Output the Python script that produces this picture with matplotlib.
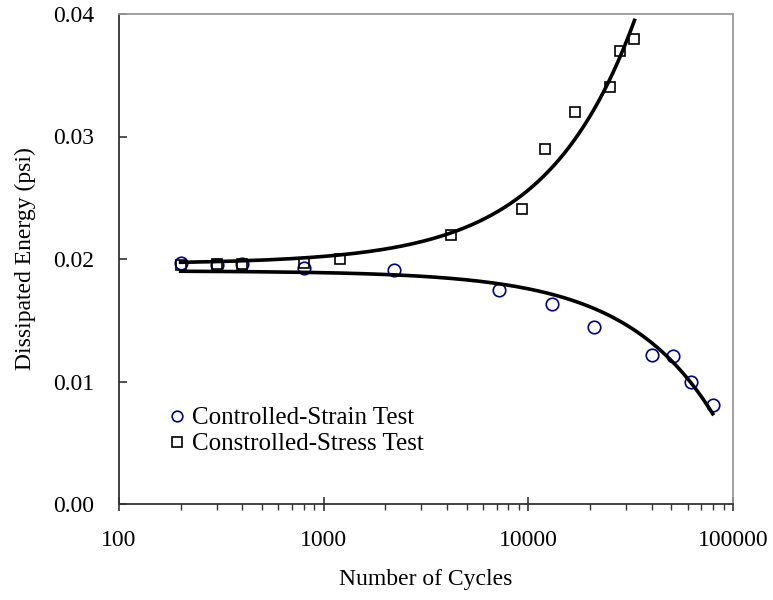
import numpy as np
import matplotlib
matplotlib.use("Agg")
import matplotlib.pyplot as plt
from matplotlib.ticker import FixedLocator, LogLocator, NullFormatter, FuncFormatter

plt.rcParams['font.family'] = ['Liberation Serif', 'DejaVu Serif']

# controlled-strain test (circles)
strain_cycles = [200, 300, 400, 800, 2200, 7200, 13000, 21000, 40000, 51000, 62000, 79600]
strain_energy = [0.01965, 0.0195, 0.0196, 0.0193, 0.0191, 0.01747, 0.01633, 0.01442,
                 0.01216, 0.01208, 0.00999, 0.00806]

# controlled-stress test (squares)
stress_cycles = [200, 300, 400, 800, 1200, 4200, 9300, 12000, 17000, 25000, 28000, 33000]
stress_energy = [0.0195, 0.01957, 0.0196, 0.0197, 0.0200, 0.0220, 0.02406, 0.0290,
                 0.0320, 0.0340, 0.0370, 0.0380]

x_ticks = [100, 1000, 10000, 100000]
y_ticks = [0.00, 0.01, 0.02, 0.03, 0.04]

fig = plt.figure(figsize=(7.73, 6.0), dpi=100)
ax = fig.add_axes([119 / 773, 1 - 504 / 600, 614 / 773, 490 / 600])

ax.plot(strain_cycles, strain_energy, 'o', ms=9, mfc='none', mec='#000080', mew=1.2,
        label='Controlled-Strain Test', zorder=3)
ax.plot(stress_cycles, stress_energy, 's', ms=7.8, mfc='none', mec='black', mew=1.2,
        label='Constrolled-Stress Test', zorder=4)

# linear trendlines (linear in N, curved on the log axis)
for xs, ys in [(strain_cycles, strain_energy), (stress_cycles, stress_energy)]:
    k, b = np.polyfit(xs, ys, 1)
    nn = np.linspace(min(xs), max(xs), 400)
    ax.plot(nn, k * nn + b, color='black', lw=2.6, zorder=5)

ax.set_xscale('log')
ax.set_xlim(100, 100000)
ax.set_ylim(0, 0.04)

ax.xaxis.set_major_locator(FixedLocator(x_ticks))
ax.xaxis.set_major_formatter(FuncFormatter(lambda v, p: '%d' % v))
ax.xaxis.set_minor_locator(LogLocator(base=10, subs=np.arange(2, 10)))
ax.xaxis.set_minor_formatter(NullFormatter())
ax.yaxis.set_major_locator(FixedLocator(y_ticks))
ax.yaxis.set_major_formatter(FuncFormatter(lambda v, p: '%.2f' % v))

ax.tick_params(axis='x', which='major', direction='inout', length=10, width=1.2,
               color='#333333', labelsize=17, pad=14)
ax.tick_params(axis='x', which='minor', direction='out', length=4.3, width=1.0,
               color='#333333')
ax.tick_params(axis='y', which='major', direction='in', length=5.5, width=1.2,
               color='#333333', labelsize=17, pad=18)

for side in ['left', 'bottom']:
    ax.spines[side].set_color('#333333')
    ax.spines[side].set_linewidth(1.3)
for side in ['top', 'right']:
    ax.spines[side].set_color('#999999')
    ax.spines[side].set_linewidth(1.3)

ax.set_xlabel('Number of Cycles', fontsize=17)
ax.xaxis.set_label_coords(0.5, -(569 - 504) / 490)
ax.set_ylabel('Dissipated Energy (psi)', fontsize=17)
ax.yaxis.set_label_coords(-(119 - 36) / 614, 0.5)

ax.legend(loc='upper left', bbox_to_anchor=((164 - 119) / 614, (504 - 407) / 490),
          frameon=False, fontsize=18, handlelength=1.0, handletextpad=0.1,
          borderpad=0, borderaxespad=0, labelspacing=0.13, markerscale=0.85)

fig.savefig('out.png', dpi=100)
